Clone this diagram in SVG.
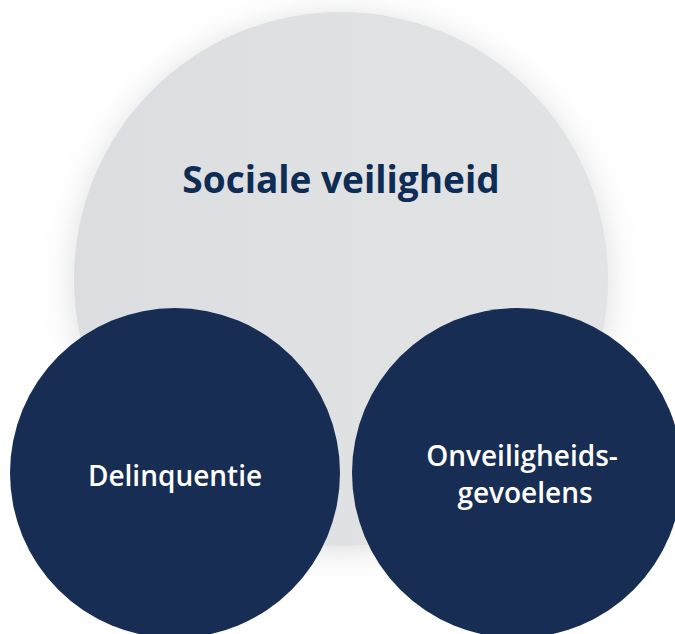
<svg xmlns="http://www.w3.org/2000/svg" width="675" height="634" viewBox="0 0 675 634">
  <defs>
    <filter id="shadow" x="-30%" y="-30%" width="160%" height="160%">
      <feGaussianBlur in="SourceAlpha" stdDeviation="16"/>
      <feOffset dx="0" dy="4" result="b"/>
      <feFlood flood-color="#9a9ca0" flood-opacity="0.35"/>
      <feComposite in2="b" operator="in"/>
      <feMerge>
        <feMergeNode/>
        <feMergeNode in="SourceGraphic"/>
      </feMerge>
    </filter>
    <linearGradient id="grey" x1="0" y1="0" x2="1" y2="0">
      <stop offset="0" stop-color="#dcdde0"/>
      <stop offset="0.5" stop-color="#e0e1e3"/>
      <stop offset="1" stop-color="#e2e3e5"/>
    </linearGradient>
  </defs>
  <style>
    .big { fill: url(#grey); }
    .small { fill: #172d53; }
    .title { font-family: "Open Sans", "Noto Sans", sans-serif; font-weight: 700; font-size: 37px; fill: #0f2c55; text-anchor: middle; }
    .label { font-family: "Open Sans", "Noto Sans", sans-serif; font-weight: 600; font-size: 28px; fill: #ffffff; text-anchor: middle; }
  </style>
  <rect width="675" height="634" fill="#ffffff"/>
  <g id="sociale-veiligheid">
    <circle class="big" cx="341" cy="279" r="267" filter="url(#shadow)"/>
    <text class="title" x="341" y="193">Sociale veiligheid</text>
  </g>
  <g id="delinquentie">
    <circle class="small" cx="175" cy="473" r="165"/>
    <text class="label" x="175" y="486">Delinquentie</text>
  </g>
  <g id="onveiligheidsgevoelens">
    <circle class="small" cx="517" cy="473" r="165"/>
    <text class="label" x="522" y="466">Onveiligheids-</text>
    <text class="label" x="525" y="503">gevoelens</text>
  </g>
  <g id="connectors"/>
</svg>
